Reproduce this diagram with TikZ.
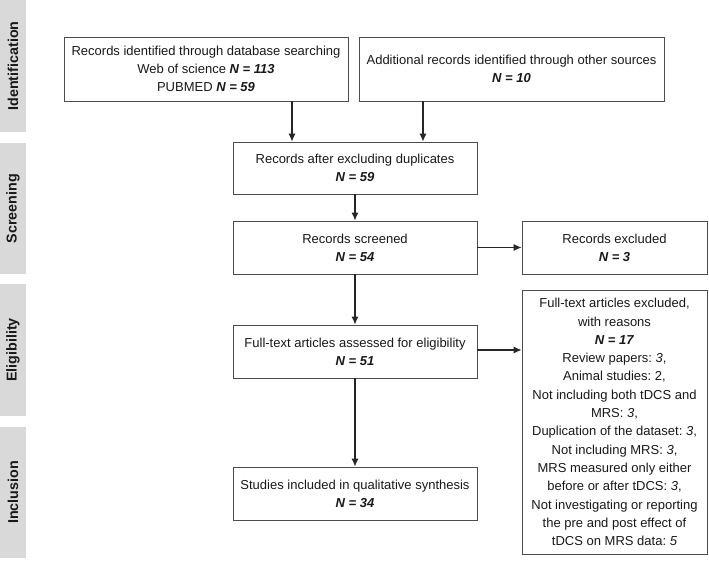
\documentclass[tikz,border=0pt]{standalone}
\usepackage{fontspec}
\setmainfont{Liberation Sans}
\frenchspacing
\usetikzlibrary{arrows.meta}

\begin{document}
\begin{tikzpicture}
\tikzset{phase/.style={fill=black!15,rotate=90,minimum height=26pt,inner sep=0pt,font=\fontsize{14.3}{16}\selectfont\bfseries,text=black!90,anchor=center}}
\tikzset{box/.style={draw=black!70,line width=0.8pt,fill=white,align=center,inner sep=0pt,minimum width=244pt,minimum height=53pt,font=\fontsize{13}{18.3}\selectfont,text=black!90,anchor=center}}
\tikzset{arrow/.style={draw=black!85,-{Latex[length=8pt,width=7pt]},line width=1.1pt}}
\newcommand{\num}[1]{\textbf{\textit{#1}}}

\begin{scope}[x={(1pt,0pt)},y={(0pt,-1pt)}]
\useasboundingbox (0,0) rectangle (709,560);

% phase bars
\node[phase,minimum width=132pt] (ident) at (13,66) {Identification};
\node[phase,minimum width=131pt] (screen) at (13,208.5) {Screening};
\node[phase,minimum width=132pt] (elig) at (13,350) {Eligibility};
\node[phase,minimum width=131pt] (incl) at (13,492.5) {Inclusion};

% boxes
\node[box,minimum width=284pt,minimum height=64pt] (db) at (206,69)
  {Records identified through database searching\\Web of science \num{N = 113}\\PUBMED \num{N = 59}};
\node[box,minimum width=305pt,minimum height=64pt] (other) at (511.5,69)
  {Additional records identified through other sources\\\num{N = 10}};
\node[box,minimum height=52pt] (dup) at (355,168)
  {Records after excluding duplicates\\\num{N = 59}};
\node[box] (screened) at (355,247.5)
  {Records screened\\\num{N = 54}};
\node[box,minimum width=185pt] (excl) at (614.5,247.5)
  {Records excluded\\\num{N = 3}};
\node[box] (assessed) at (355,351.5)
  {Full-text articles assessed for eligibility\\\num{N = 51}};
\node[box] (included) at (355,493.5)
  {Studies included in qualitative synthesis\\\num{N = 34}};
\node[box,minimum width=185pt,minimum height=264pt] (fullexcl) at (614.5,422)
  {Full-text articles excluded,\\with reasons\\\num{N = 17}\\Review papers: \textit{3},\\Animal studies: 2,\\Not including both tDCS and\\MRS: \textit{3},\\Duplication of the dataset: \textit{3},\\Not including MRS: \textit{3},\\MRS measured only either\\before or after tDCS: \textit{3},\\Not investigating or reporting\\the pre and post effect of\\tDCS on MRS data: \textit{5}};

% connectors
\draw[arrow] ([xshift=-63pt]dup.north |- db.south) -- ([xshift=-63pt]dup.north);
\draw[arrow] ([xshift=68pt]dup.north |- other.south) -- ([xshift=68pt]dup.north);
\draw[arrow] (dup) -- (screened);
\draw[arrow] (screened) -- (excl);
\draw[arrow] (screened) -- (assessed);
\draw[arrow] ([yshift=1.5pt]assessed.east) -- ([yshift=1.5pt]assessed.east -| fullexcl.west);
\draw[arrow] (assessed) -- (included);

\end{scope}
\end{tikzpicture}
\end{document}
